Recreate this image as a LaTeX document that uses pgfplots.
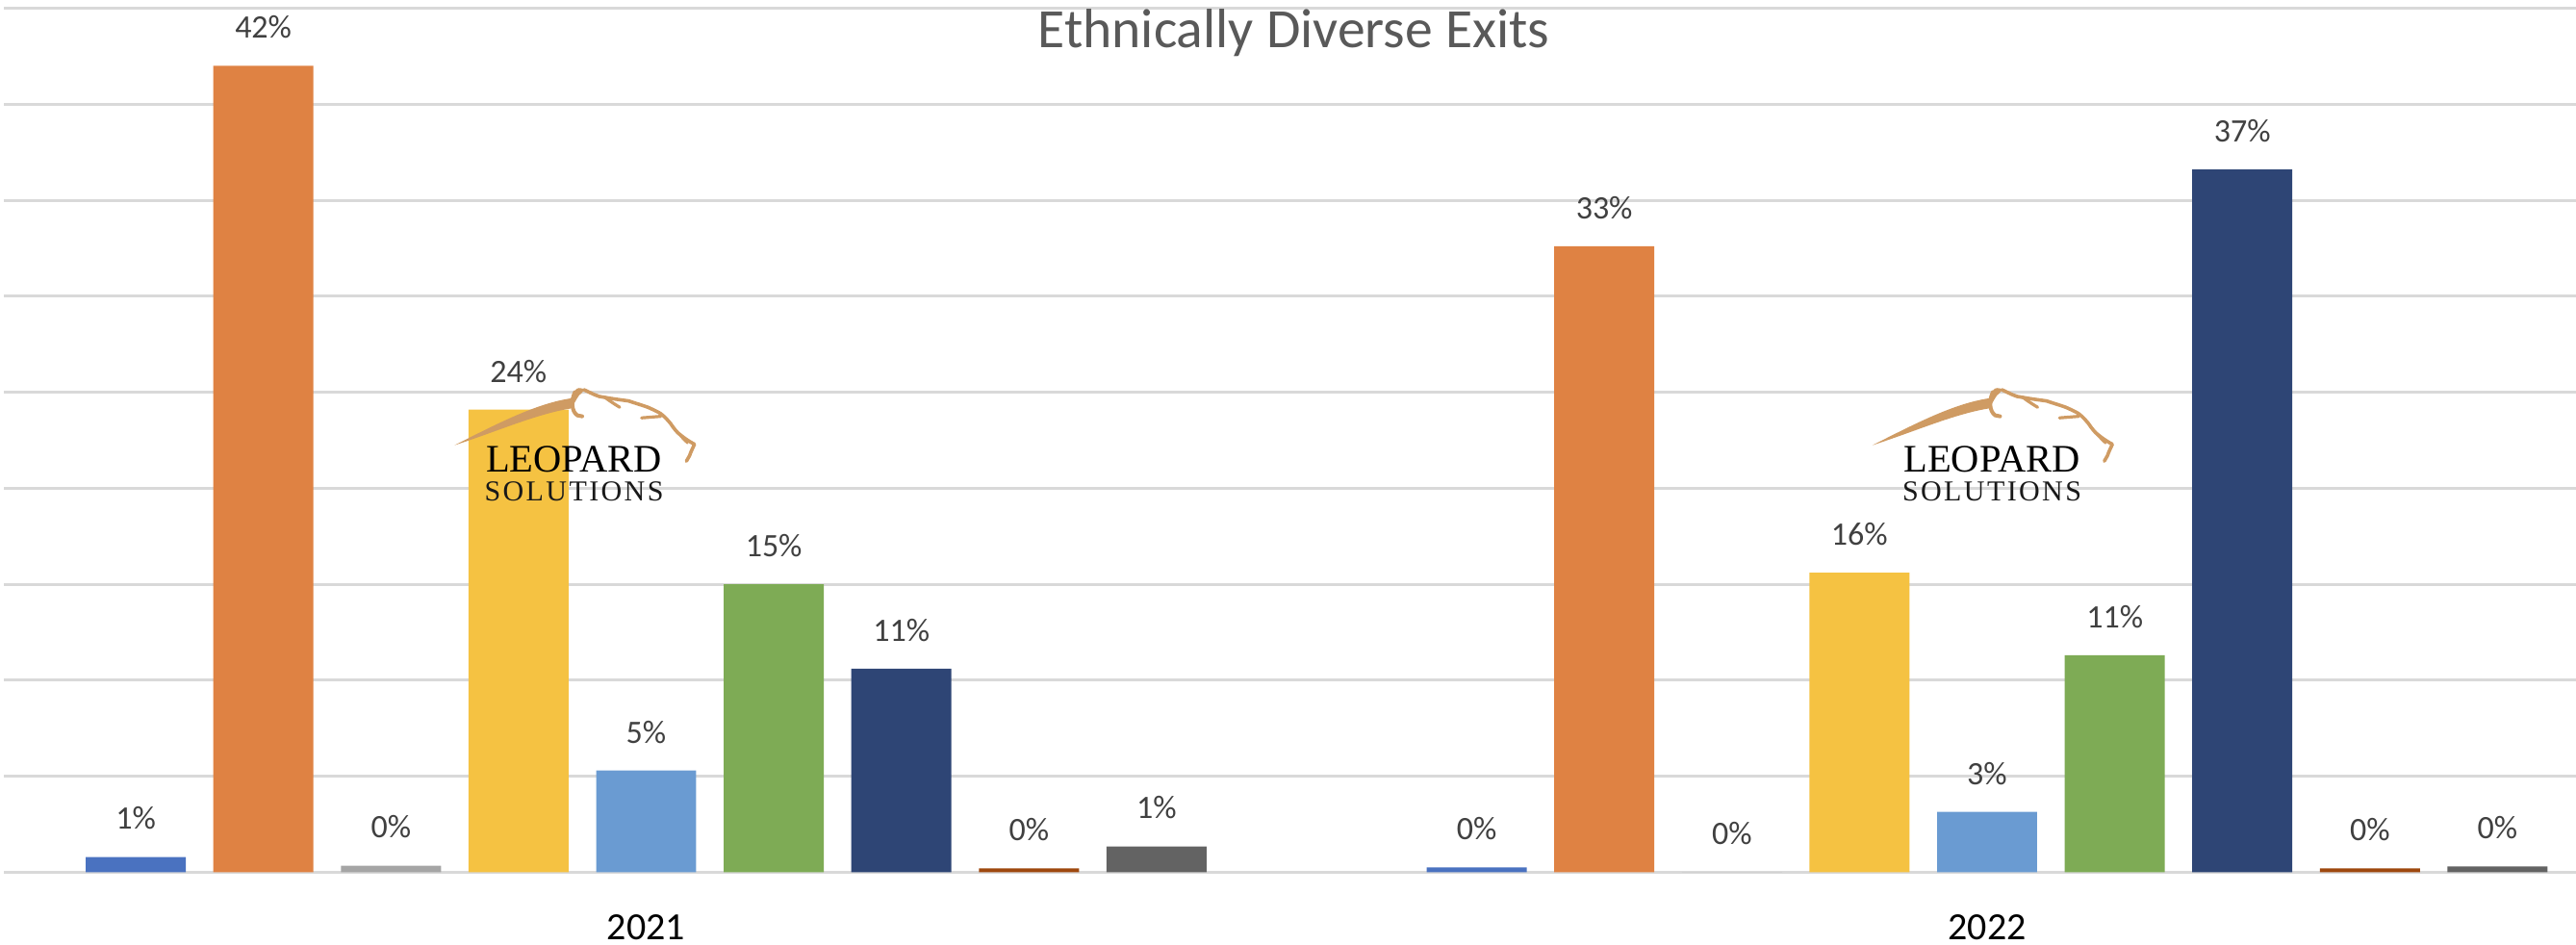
\documentclass[border=0pt]{standalone}
\usepackage{fontspec}
\setmainfont{Carlito}
\newfontfamily\logofont{Liberation Serif}
\newfontfamily\logofontsp[LetterSpace=8]{Liberation Serif}
\usepackage{graphicx}
\usepackage{pgfplots}
\pgfplotsset{compat=1.18}
\definecolor{cBlue}{HTML}{4A72C0}
\definecolor{cOrange}{HTML}{DF8243}
\definecolor{cGray}{HTML}{A5A5A5}
\definecolor{cYellow}{HTML}{F5C242}
\definecolor{cLBlue}{HTML}{6A9BD2}
\definecolor{cGreen}{HTML}{7EAB55}
\definecolor{cNavy}{HTML}{2E4575}
\definecolor{cBrown}{HTML}{9E480E}
\definecolor{cDGray}{HTML}{636363}
\definecolor{cGrid}{HTML}{D9D9D9}
\definecolor{cLabel}{HTML}{404040}
\definecolor{cTitle}{HTML}{595959}
\definecolor{cTan}{HTML}{CF9B63}
\newcommand{\leopard}[1]{%
\begin{scope}[shift={(#1)}, x=0.25pt, y=0.25pt]
\fill[cTan] (-124.2,14.8) .. controls (-80,37) and (-40,58) .. (-3.2,63.5) .. controls (0,70) and (2,74.5) .. (5.2,74.2) .. controls (8,74.5) and (10,73.5) .. (10.2,72) -- (8,69) .. controls (4,67) and (2,60) .. (-3.2,53) .. controls (-40,47) and (-80,29) .. cycle;
\draw[cTan, line width=1pt, line cap=round] (1,70) .. controls (-3,62) and (-3,50) .. (3.5,45.8) -- (8.5,44.8);
\draw[cTan, line width=0.9pt, line cap=round, line join=round] (10.2,72.5) .. controls (20,68) and (25,65) .. (30.2,64.8) .. controls (40,63) and (48,62) .. (56.8,60.8) .. controls (65,58) and (72,56) .. (76.8,54.2) .. controls (84,51) and (88,49) .. (90.2,47.5) .. controls (95,44) and (98,40) .. (100.2,37.5) .. controls (104,32) and (107,28) .. (110.2,25.8) .. controls (116,21) and (121,18) .. (125.2,15.8) .. controls (123,11) and (121,7) .. (120.2,4.2) -- (116.8,-1.8);
\draw[cTan, line width=0.8pt, line cap=round] (31.8,64.8) .. controls (38,60) and (43,57) .. (47.5,54.2);
\draw[cTan, line width=0.8pt, line cap=round] (70.2,43.2) -- (90.2,44.8);
\draw[cTan, line width=0.6pt, line cap=round] (100.2,37.5) .. controls (106,30) and (112,22) .. (118,17);
\node[inner sep=0, text=black] at (0,0) {\resizebox{45.75pt}{!}{\logofont LEOPARD}};
\node[inner sep=0, text=black!90] at (0,-33.5) {\resizebox{46.5pt}{!}{\logofontsp SOLUTIONS}};
\end{scope}}
\begin{document}
\begin{tikzpicture}
\begin{axis}[
  scale only axis, width=668.25pt, height=224.5pt,
  xmin=-0.4790, xmax=1.4392, ymin=0, ymax=45,
  clip=false,
  axis line style={draw=none},
  ytick={0,5,...,45}, yticklabels={},
  ymajorgrids, grid style={color=cGrid, line width=0.75pt},
  xtick={0,1}, xticklabels={2021,2022},
  major tick length=0pt, tick style={draw=none},
  xticklabel style={font=\fontsize{10}{10}\selectfont, anchor=base, yshift=-17.5pt, text=black},
  every axis plot/.append style={ybar, bar width=0.0746, bar shift=0pt, draw=none,
    point meta=explicit symbolic,
    nodes near coords={\pgfplotspointmeta\%},
    every node near coord/.append style={font=\fontsize{8.5}{8.5}\selectfont, text=cLabel, anchor=center, yshift=10pt}},
]
\addplot[fill=cBlue]   coordinates {(-0.3806,0.8) [1]  (0.6194,0.25) [0]};
\addplot[fill=cOrange] coordinates {(-0.2855,42.0) [42] (0.7145,32.6) [33]};
\addplot[fill=cGray]   coordinates {(-0.1903,0.35) [0] (0.8097,0) [0]};
\addplot[fill=cYellow] coordinates {(-0.0952,24.1) [24] (0.9048,15.6) [16]};
\addplot[fill=cLBlue]  coordinates {(0,5.3) [5] (1,3.15) [3]};
\addplot[fill=cGreen]  coordinates {(0.0952,15.0) [15] (1.0952,11.3) [11]};
\addplot[fill=cNavy]   coordinates {(0.1903,10.6) [11] (1.1903,36.6) [37]};
\addplot[fill=cBrown]  coordinates {(0.2855,0.2) [0] (1.2855,0.2) [0]};
\addplot[fill=cDGray]  coordinates {(0.3806,1.35) [1] (1.3806,0.3) [0]};
\node[anchor=base, font=\fontsize{14.4}{14.4}\selectfont, text=cTitle] at (rel axis cs:0.5015,0.9538) {Ethnically Diverse Exits};
\coordinate (L1) at (axis cs:-0.0538,21.5);
\coordinate (L2) at (axis cs:1.0036,21.5);
\coordinate (BL) at (rel axis cs:0,0);
\coordinate (TR) at (rel axis cs:1,1);
\end{axis}
\leopard{L1}
\leopard{L2}
\pgfresetboundingbox
\path ([xshift=-1pt,yshift=-18.875pt]BL) rectangle ([yshift=2.125pt]TR);
\end{tikzpicture}
\end{document}
